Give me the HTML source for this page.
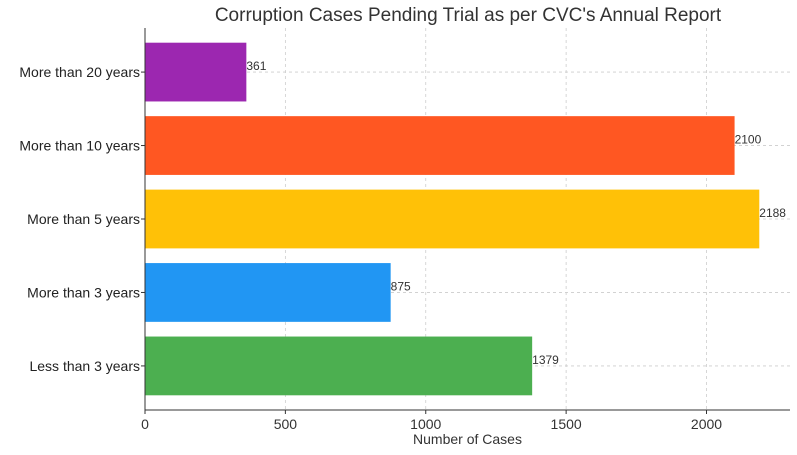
<!DOCTYPE html>
<html><head><meta charset="utf-8"><style>
body{margin:0;background:#fff;}
svg text{font-family:"Liberation Sans","DejaVu Sans",sans-serif;}
</style></head><body>
<svg id="chart" width="797" height="450" xmlns="http://www.w3.org/2000/svg">
<rect width="797" height="450" fill="#fff"/>
<text x="468" y="21" text-anchor="middle" font-size="19" fill="#333">Corruption Cases Pending Trial as per CVC's Annual Report</text>
<g id="grid"></g><g id="bars"></g><g id="axes"></g>
</svg>
<script>
const categories=["Less than 3 years","More than 3 years","More than 5 years","More than 10 years","More than 20 years"];
const values=[1379,875,2188,2100,361];
const colors=["#4CAF50","#2196F3","#FFC107","#FF5722","#9C27B0"];
const xTicks=[0,500,1000,1500,2000];
const ns="http://www.w3.org/2000/svg";
const L=145,R=790,T=28,B=410,xMax=2297.4;
const x=v=>L+(v/xMax)*(R-L);
const step=(B-T)/(categories.length+0.2);
const yc=i=>B-step*(i+0.6);
const bh=step*0.8;
function mk(tag,attrs,parent){const e=document.createElementNS(ns,tag);for(const k in attrs)e.setAttribute(k,attrs[k]);document.getElementById(parent).appendChild(e);return e;}
xTicks.forEach(t=>{
 const g=mk("line",{x1:x(t),x2:x(t),y1:T,y2:B,stroke:"#ccc","stroke-dasharray":"3,3","stroke-width":0.8},"grid");
 
 
 const tk=mk("line",{x1:x(t),x2:x(t),y1:B,y2:B+4,stroke:"#333"},"axes");
 
 
 const lb=mk("text",{x:x(t),y:B+19,"text-anchor":"middle","font-size":14,fill:"#333"},"axes");lb.textContent=t;
 
 
});
categories.forEach((c,i)=>{
 const g=mk("line",{x1:L,x2:R,y1:yc(i),y2:yc(i),stroke:"#ccc","stroke-dasharray":"3,3","stroke-width":0.8},"grid");
 
 
 const r=mk("rect",{x:L,y:yc(i)-bh/2,width:x(values[i])-L,height:bh,fill:colors[i]},"bars");
 
 
 const v=mk("text",{x:x(values[i]),y:yc(i)-2,"font-size":12,fill:"#333"},"bars");v.textContent=values[i];
 
 
 const tk=mk("line",{x1:L-4,x2:L,y1:yc(i),y2:yc(i),stroke:"#333"},"axes");
 
 
 const lb=mk("text",{x:L-5,y:yc(i)+5,"text-anchor":"end","font-size":14,fill:"#222"},"axes");lb.textContent=c;
 
 
});
const ax=mk("path",{d:`M${L},${T}V${B}H${R}`,fill:"none",stroke:"#333","stroke-width":1},"axes");


const xt=mk("text",{x:(L+R)/2,y:444,"text-anchor":"middle","font-size":14,fill:"#333"},"axes");xt.textContent="Number of Cases";


</script>
</body></html>
